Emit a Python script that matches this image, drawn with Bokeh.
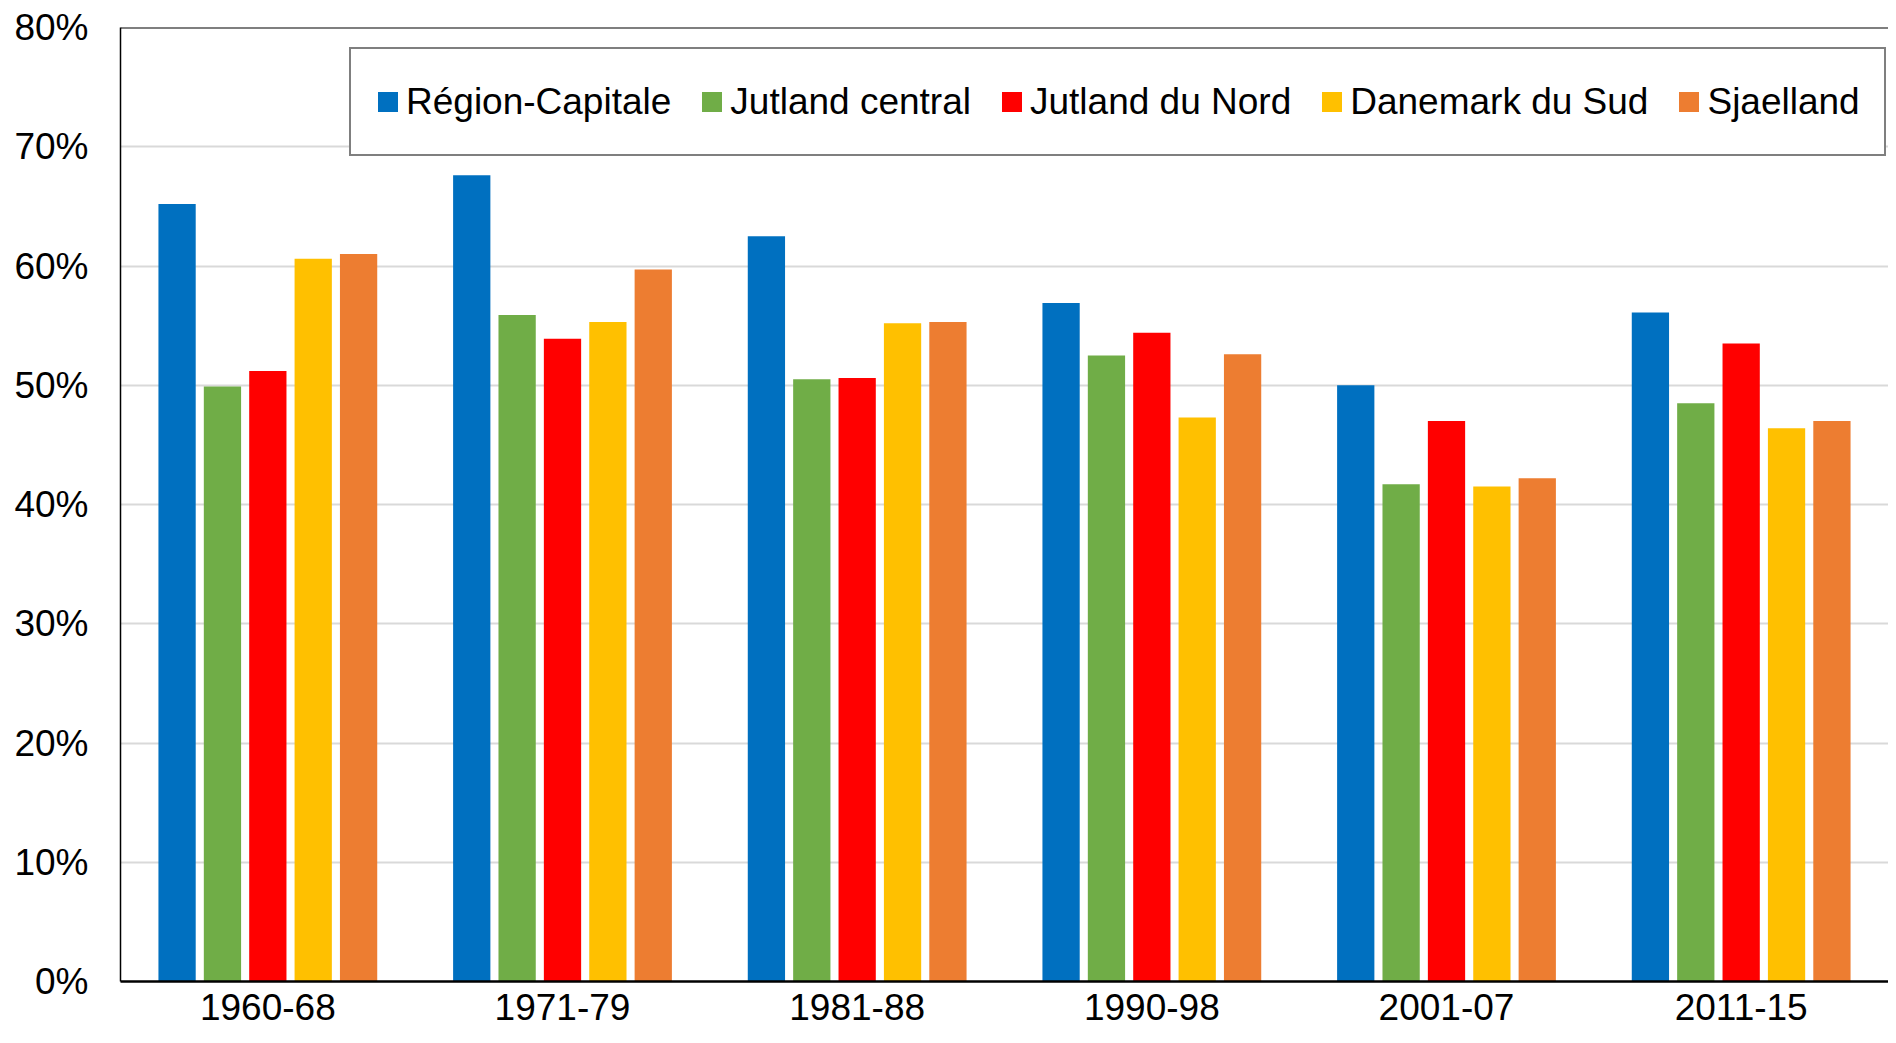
from bokeh.plotting import figure
from bokeh.models import (ColumnDataSource, FactorRange, Range1d, Legend, LegendItem,
                          FixedTicker, PrintfTickFormatter, Span)
from bokeh.transform import dodge
from bokeh.embed import file_html
from bokeh.resources import INLINE

periods = ["1960-68", "1971-79", "1981-88", "1990-98", "2001-07", "2011-15"]
region_capitale = [65.2, 67.6, 62.5, 56.9, 50.0, 56.1]
jutland_central = [49.9, 55.9, 50.5, 52.5, 41.7, 48.5]
jutland_nord = [51.2, 53.9, 50.6, 54.4, 47.0, 53.5]
danemark_sud = [60.6, 55.3, 55.2, 47.3, 41.5, 46.4]
sjaelland = [61.0, 59.7, 55.3, 52.6, 42.2, 47.0]
series_names = ["Région-Capitale", "Jutland central", "Jutland du Nord", "Danemark du Sud", "Sjaelland"]
series_keys = ["rc", "jc", "jn", "ds", "sj"]
colors = ["#0070C0", "#70AD47", "#FF0000", "#FFC000", "#ED7D31"]
y_ticks = [0, 10, 20, 30, 40, 50, 60, 70, 80]

source = ColumnDataSource(dict(period=periods, rc=region_capitale, jc=jutland_central,
                               jn=jutland_nord, ds=danemark_sud, sj=sjaelland))

FONT = "Liberation Sans"

p = figure(x_range=FactorRange(*periods), y_range=Range1d(0, 80),
           width=1888, height=1035, output_backend="svg", toolbar_location=None,
           min_border_top=27, min_border_left=120, min_border_right=0, min_border_bottom=54)
p.x_range.range_padding = 0
p.outline_line_color = None
p.background_fill_color = "white"
p.border_fill_color = "white"

step = 0.154
bw = 0.1265
items = []
for i, (k, name, c) in enumerate(zip(series_keys, series_names, colors)):
    r = p.vbar(x=dodge("period", (i - 2) * step, range=p.x_range), top=k, width=bw,
               source=source, fill_color=c, line_color=None)
    items.append(LegendItem(label=name, renderers=[r]))

# axes
p.yaxis.ticker = FixedTicker(ticks=y_ticks)
p.yaxis.formatter = PrintfTickFormatter(format="%d%%")
p.yaxis.major_tick_line_color = None
p.yaxis.minor_tick_line_color = None
p.yaxis.major_tick_out = 0
p.yaxis.major_label_standoff = 32
p.yaxis.axis_line_color = "black"
p.yaxis.axis_line_width = 1.5
p.yaxis.major_label_text_font = FONT
p.yaxis.major_label_text_font_size = "37px"
p.yaxis.major_label_text_color = "black"

p.xaxis.major_tick_line_color = None
p.xaxis.minor_tick_line_color = None
p.xaxis.major_tick_out = 0
p.xaxis.major_label_standoff = 12
p.xaxis.axis_line_color = "black"
p.xaxis.axis_line_width = 2.5
p.xaxis.major_label_text_font = FONT
p.xaxis.major_label_text_font_size = "37px"
p.xaxis.major_label_text_color = "black"

p.xgrid.grid_line_color = None
p.ygrid.grid_line_color = "#D9D9D9"
p.ygrid.grid_line_width = 2

p.add_layout(Span(location=80, dimension="width", line_color="black", line_width=2))

legend = Legend(items=items, orientation="horizontal", location=(229, 825),
                border_line_color="black", border_line_width=2,
                background_fill_color="white", background_fill_alpha=1.0,
                padding=24, spacing=28, label_standoff=6, label_height=57,
                glyph_width=25, glyph_height=25, margin=0,
                label_text_font=FONT, label_text_font_size="37px", label_text_color="black")
p.add_layout(legend, "center")

open("out.html", "w").write(file_html(p, INLINE))
